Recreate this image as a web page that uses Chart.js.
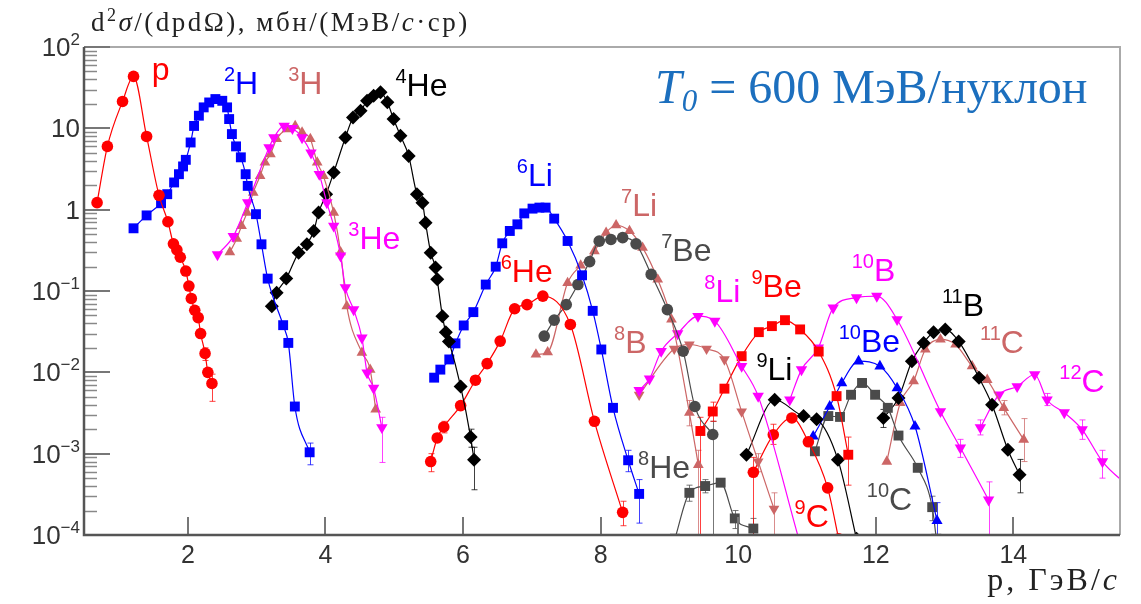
<!DOCTYPE html>
<html>
<head>
<meta charset="utf-8">
<script src="https://cdn.jsdelivr.net/npm/chart.js@4.4.0/dist/chart.umd.min.js"></script>
<style>
  html, body { margin: 0; padding: 0; background: #fff; }
  canvas { display: block; }
</style>
</head>
<body>
<canvas id="chart" width="1141" height="604"></canvas>
<script>
// Оси
const xMin = 0.49, xMax = 15.55;
const yMin = 1e-4, yMax = 100;
const xTicks = [2, 4, 6, 8, 10, 12, 14];
const yExponents = [-4, -3, -2, -1, 0, 1, 2];

// Данные: [p, d2sigma]
const pData = [[0.68,1.22],[0.83,6.0],[1.05,21.4],[1.21,43.5],[1.40,7.95],[1.58,1.5],[1.71,0.71],[1.79,0.38],[1.84,0.32],[1.89,0.26],[1.97,0.176],[2.015,0.115],[2.05,0.081],[2.10,0.058],[2.15,0.047],[2.185,0.030],[2.25,0.0171],[2.29,0.0100],[2.35,0.0073]];
const h2Data = [[1.21,0.59],[1.40,0.85],[1.61,1.20],[1.70,1.55],[1.80,2.16],[1.87,2.73],[1.93,3.4],[1.97,4.1],[2.04,6.7],[2.09,10.7],[2.16,14.3],[2.23,18.1],[2.31,20.8],[2.40,22.9],[2.50,21.8],[2.57,18.1],[2.60,13.0],[2.64,8.5],[2.70,6.0],[2.77,4.4],[2.84,2.73],[2.87,1.96],[2.99,0.88],[3.07,0.375],[3.16,0.142],[3.385,0.038],[3.46,0.023],[3.555,0.0038],[3.77,0.00104]];
const h3Data = [[2.61,0.30],[2.71,0.44],[2.78,0.63],[2.86,0.92],[2.95,1.62],[3.05,2.6],[3.12,3.8],[3.20,4.8],[3.29,7.4],[3.44,9.8],[3.56,10.7],[3.66,8.9],[3.78,7.4],[3.88,3.8],[3.97,2.6],[4.12,0.92],[4.22,0.30],[4.31,0.065],[4.53,0.0174],[4.65,0.0108],[4.73,0.0035]];
const he3Data = [[2.43,0.28],[2.66,0.47],[2.87,1.22],[3.18,5.8],[3.25,7.7],[3.40,10.7],[3.52,10.0],[3.66,7.7],[3.79,5.0],[3.91,2.73],[4.02,1.22],[4.12,0.63],[4.22,0.27],[4.29,0.11],[4.41,0.059],[4.53,0.0266],[4.605,0.0099],[4.70,0.0064],[4.82,0.0021]];
const he4Data = [[3.22,0.065],[3.29,0.095],[3.43,0.142],[3.61,0.296],[3.73,0.375],[3.83,0.547],[3.90,0.92],[4.01,1.55],[4.12,2.86],[4.29,7.7],[4.40,13.6],[4.51,16.4],[4.605,21.8],[4.70,25.1],[4.80,27.7],[4.90,20.9],[4.99,13.0],[5.09,8.1],[5.21,4.58],[5.33,1.55],[5.41,1.22],[5.455,0.69],[5.53,0.296],[5.60,0.194],[5.625,0.139],[5.70,0.049],[5.75,0.031],[5.795,0.024],[5.965,0.0067],[6.11,0.0016],[6.16,0.00084]];
const li6Data = [[5.58,0.0086],[5.67,0.0108],[5.80,0.0144],[5.89,0.0227],[6.01,0.0377],[6.15,0.055],[6.33,0.12],[6.475,0.199],[6.57,0.386],[6.68,0.547],[6.79,0.66],[6.89,0.90],[7.01,1.03],[7.11,1.06],[7.20,1.06],[7.325,0.776],[7.52,0.412],[7.73,0.156],[7.885,0.057],[8.01,0.0191],[8.18,0.00366],[8.40,0.00083],[8.56,0.00032]];
const he6Data = [[5.53,0.0008],[5.625,0.00156],[5.72,0.00213],[5.965,0.0039],[6.18,0.0080],[6.35,0.0128],[6.54,0.0242],[6.75,0.0605],[6.93,0.068],[7.16,0.0865],[7.56,0.0388],[7.91,0.0025],[8.32,0.00019]];
const li7Data = [[7.06,0.0166],[7.23,0.0177],[7.52,0.126],[7.71,0.206],[7.91,0.31],[8.08,0.522],[8.225,0.643],[8.42,0.547],[8.61,0.341],[8.83,0.139],[9.03,0.0447],[9.29,0.0032],[9.42,0.00073]];
const be7Data = [[7.18,0.0279],[7.325,0.0438],[7.50,0.068],[7.67,0.12],[7.84,0.23],[7.98,0.41],[8.15,0.43],[8.32,0.453],[8.515,0.38],[8.735,0.16],[8.97,0.059],[9.20,0.0182],[9.37,0.0038],[9.63,0.00172]];
const b8Data = [[8.56,0.0053],[9.07,0.0195],[9.29,0.022],[9.54,0.0195],[9.80,0.0144],[10.05,0.0033],[10.29,0.00080],[10.52,0.00021]];
const li8Data = [[8.56,0.006],[8.71,0.0083],[8.88,0.0182],[9.12,0.030],[9.415,0.049],[9.66,0.0426],[10.05,0.0119],[10.29,0.0051],[10.88,0.00009]];
const be9Data = [[9.45,0.0019],[9.63,0.0033],[9.80,0.0063],[10.05,0.0158],[10.30,0.0312],[10.49,0.037],[10.68,0.0438],[10.90,0.0337],[11.17,0.018],[11.43,0.0051],[11.60,0.00097]];
const he8Data = [[9.08,0.00009],[9.29,0.00033],[9.52,0.0004],[9.745,0.00044],[9.95,0.00016],[10.22,0.00012]];
const c9Data = [[10.22,0.00059],[10.51,0.00171],[10.78,0.00275],[11.02,0.0014],[11.30,0.00038],[11.46,0.00009]];
const li9Data = [[10.12,0.00097],[10.53,0.0046],[10.95,0.0029],[11.14,0.00265],[11.45,0.00084],[11.72,0.00009]];
const b10Data = [[10.75,0.0046],[10.92,0.0108],[11.165,0.020],[11.38,0.062],[11.72,0.083],[12.015,0.0866],[12.31,0.0447],[12.94,0.0033],[13.23,0.00118],[13.64,0.00027]];
const be10Data = [[11.09,0.00163],[11.33,0.0038],[11.505,0.0074],[11.75,0.0137],[12.06,0.0119],[12.31,0.0064],[12.57,0.00217],[12.89,0.00015]];
const c10Data = [[11.115,0.00107],[11.31,0.0029],[11.48,0.00283],[11.64,0.0053],[11.80,0.0074],[11.99,0.0053],[12.175,0.00366],[12.33,0.00167],[12.61,0.00067],[12.82,0.00022],[12.88,0.00009]];
const b11Data = [[12.11,0.00275],[12.33,0.00485],[12.525,0.0137],[12.695,0.023],[12.84,0.031],[13.01,0.0336],[13.205,0.024],[13.50,0.0086],[13.69,0.004],[13.92,0.00112],[14.09,0.00055]];
const c11Data = [[12.16,0.0008],[12.355,0.0042],[12.55,0.0078],[12.72,0.0191],[12.94,0.0254],[13.16,0.022],[13.40,0.0119],[13.62,0.0081],[13.86,0.00366],[14.15,0.00149]];
const c12Data = [[13.52,0.0021],[13.79,0.0053],[14.055,0.0067],[14.31,0.0094],[14.49,0.0046],[14.74,0.0032],[15.00,0.00198],[15.295,0.0008],[15.7,0.00038]];

// Погрешности: [p, низ, верх]
const pErr = [[2.25,0.014,0.020],[2.35,0.0044,0.0095]];
const h2Err = [[3.77,0.00073,0.00135]];
const he3Err = [[4.82,0.00078,0.0028]];
const he4Err = [[6.11,0.0012,0.002],[6.16,0.00036,0.0012]];
const he6Err = [[5.53,0.0006,0.001],[5.72,0.0018,0.0025],[8.32,0.00013,0.00026]];
const li6Err = [[8.40,0.0006,0.0011],[8.56,0.00014,0.00048]];
const li7Err = [[9.29,0.0022,0.0045],[9.42,1e-6,0.0011]];
const be7Err = [[9.63,1e-6,0.0025]];
const b8Err = [[10.29,0.0006,0.001],[10.52,1e-6,0.00033]];
const be9Err = [[9.45,1e-6,0.0028],[9.63,0.0025,0.0043],[11.60,0.00041,0.0016]];
const he8Err = [[9.29,0.00026,0.00041],[9.52,0.00033,0.00048],[9.95,0.00012,0.0002],[10.22,0.00009,0.00016]];
const c9Err = [[10.22,1e-6,0.0009],[10.51,0.0013,0.0023]];
const b10Err = [[13.23,0.0009,0.0015],[13.64,1e-6,0.00045]];
const be10Err = [[12.89,1e-6,0.00025]];
const c10Err = [[12.82,0.00015,0.0003]];
const b11Err = [[12.11,0.0021,0.0035],[14.09,0.00033,0.00085]];
const c11Err = [[13.86,0.003,0.0045],[14.15,0.0008,0.0027]];
const c12Err = [[13.52,0.0017,0.0026],[14.49,0.0039,0.0055],[15.00,0.0015,0.0026],[15.295,0.0005,0.0011]];

// Цвета
const RED = "#ff0000", BLUE = "#0000ff", MAG = "#ff00ff", BLACK = "#000000", ROSE = "#cc6666", GRAY = "#4a4a4a";

// Подписи изотопов: [верхний индекс, символ, p, d2sigma, цвет]
const isoLabels = [
  ["", "p", 1.475, 39, RED],
  ["2", "H", 2.525, 26.4, BLUE],
  ["3", "H", 3.458, 26.4, ROSE],
  ["4", "He", 5.017, 24.9, BLACK],
  ["3", "He", 4.332, 0.325, MAG],
  ["6", "Li", 6.781, 1.94, BLUE],
  ["7", "Li", 8.297, 0.83, ROSE],
  ["7", "Be", 8.88, 0.232, GRAY],
  ["6", "He", 6.548, 0.128, RED],
  ["8", "Li", 9.507, 0.0724, MAG],
  ["9", "Be", 10.192, 0.0834, RED],
  ["10", "B", 11.65, 0.131, MAG],
  ["11", "B", 12.962, 0.0486, BLACK],
  ["8", "B", 8.195, 0.0175, ROSE],
  ["10", "Be", 11.46, 0.018, BLUE],
  ["11", "C", 13.516, 0.0175, ROSE],
  ["9", "Li", 10.265, 0.00815, BLACK],
  ["12", "C", 14.668, 0.0058, MAG],
  ["8", "He", 8.545, 0.000506, GRAY],
  ["9", "C", 10.819, 0.000126, RED],
  ["10", "C", 11.869, 0.000204, GRAY]
];

function series(data, errors, color, style, r, rot) {
  return {
    data,
    errors,
    borderColor: color,
    backgroundColor: color,
    borderWidth: 1.2,
    pointStyle: style,
    rotation: rot || 0,
    pointRadius: r,
    pointBorderWidth: 0,
    cubicInterpolationMode: "monotone",
    fill: false
  };
}

const datasets = [
  series(pData, pErr, RED, "circle", 5.8),
  series(h2Data, h2Err, BLUE, "rect", 7),
  series(he3Data, he3Err, MAG, "triangle", 6.6, 180),
  series(h3Data, [], ROSE, "triangle", 6.2),
  series(he4Data, he4Err, BLACK, "rectRot", 7),
  series(li6Data, li6Err, BLUE, "rect", 7),
  series(he6Data, he6Err, RED, "circle", 5.8),
  series(be7Data, be7Err, GRAY, "circle", 5.8),
  series(li7Data, li7Err, ROSE, "triangle", 6.2),
  series(li8Data, [], MAG, "triangle", 6.6, 180),
  series(b8Data, b8Err, ROSE, "triangle", 6.2, 180),
  series(be9Data, be9Err, RED, "rect", 7),
  series(he8Data, he8Err, GRAY, "rect", 7),
  series(c9Data, c9Err, RED, "circle", 5.8),
  series(li9Data, [], BLACK, "rectRot", 7),
  series(b10Data, b10Err, MAG, "triangle", 6.6, 180),
  series(be10Data, be10Err, BLUE, "triangle", 6.4),
  series(c10Data, c10Err, GRAY, "rect", 7),
  series(b11Data, b11Err, BLACK, "rectRot", 7),
  series(c11Data, c11Err, ROSE, "triangle", 6.2),
  series(c12Data, c12Err, MAG, "triangle", 6.6, 180)
];

// Планки погрешностей
const errorBars = {
  id: "errorBars",
  beforeDatasetsDraw(chart) {
    const { ctx, chartArea: a } = chart;
    const xs = chart.scales.x, ys = chart.scales.y;
    ctx.save();
    ctx.beginPath();
    ctx.rect(a.left, a.top, a.right - a.left, a.bottom - a.top);
    ctx.clip();
    ctx.lineWidth = 1;
    chart.data.datasets.forEach(ds => {
      ctx.strokeStyle = ds.borderColor;
      ctx.globalAlpha = 0.75;
      (ds.errors || []).forEach(([xv, lo, hi]) => {
        const px = Math.round(xs.getPixelForValue(xv)) + 0.5;
        const y1 = ys.getPixelForValue(lo), y2 = ys.getPixelForValue(hi);
        ctx.beginPath();
        ctx.moveTo(px, y1); ctx.lineTo(px, y2);
        ctx.moveTo(px - 3, y1); ctx.lineTo(px + 3, y1);
        ctx.moveTo(px - 3, y2); ctx.lineTo(px + 3, y2);
        ctx.stroke();
      });
    });
    ctx.restore();
  }
};

function drawSegments(ctx, segs, x, y, align) {
  // segs: [текст, шрифт, сдвиг по вертикали]
  let total = 0;
  segs.forEach(s => { ctx.font = s[1]; total += ctx.measureText(s[0]).width; });
  let cx = align === "right" ? x - total : x;
  segs.forEach(s => {
    ctx.font = s[1];
    ctx.fillText(s[0], cx, y + (s[2] || 0));
    cx += ctx.measureText(s[0]).width;
  });
}

// Рамка, деления, подписи
const frame = {
  id: "frame",
  afterDraw(chart) {
    const { ctx, chartArea: a } = chart;
    const xs = chart.scales.x, ys = chart.scales.y;
    ctx.save();

    ctx.strokeStyle = "#aaaaaa";
    ctx.lineWidth = 2;
    ctx.beginPath();
    ctx.moveTo(a.left, a.top); ctx.lineTo(a.right, a.top); ctx.lineTo(a.right, a.bottom);
    ctx.stroke();

    ctx.strokeStyle = "#888888";
    ctx.lineWidth = 1.5;
    for (let e = -4; e < 2; e++) {
      for (let m = 2; m <= 9; m++) {
        const py = Math.round(ys.getPixelForValue(m * Math.pow(10, e))) + 0.5;
        ctx.beginPath(); ctx.moveTo(a.left, py); ctx.lineTo(a.left + 13, py); ctx.stroke();
      }
    }
    ctx.strokeStyle = "#777777";
    ctx.lineWidth = 2;
    yExponents.forEach(e => {
      const py = Math.round(ys.getPixelForValue(Math.pow(10, e)));
      ctx.beginPath(); ctx.moveTo(a.left, py); ctx.lineTo(a.left + 26, py); ctx.stroke();
    });
    xTicks.forEach(v => {
      const px = Math.round(xs.getPixelForValue(v));
      ctx.beginPath(); ctx.moveTo(px, a.bottom); ctx.lineTo(px, a.bottom - 18); ctx.stroke();
    });

    ctx.strokeStyle = "#555555";
    ctx.lineWidth = 2.5;
    ctx.beginPath();
    ctx.moveTo(a.left, a.top); ctx.lineTo(a.left, a.bottom); ctx.lineTo(a.right, a.bottom);
    ctx.stroke();

    // подписи делений
    ctx.fillStyle = "#333333";
    ctx.textBaseline = "alphabetic";
    const tickFont = "26px 'Liberation Sans', Arial, sans-serif";
    const supFont = "17px 'Liberation Sans', Arial, sans-serif";
    yExponents.forEach(e => {
      const py = ys.getPixelForValue(Math.pow(10, e));
      let segs;
      if (e === 0) segs = [["1", tickFont, 0]];
      else if (e === 1) segs = [["10", tickFont, 0]];
      else segs = [["10", tickFont, 0], [e < 0 ? "\u2212" + (-e) : String(e), supFont, -11]];
      drawSegments(ctx, segs, 80, py + 9, "right");
    });
    ctx.textAlign = "center";
    ctx.font = "25px 'Liberation Sans', Arial, sans-serif";
    xTicks.forEach(v => ctx.fillText(String(v), xs.getPixelForValue(v), 563));
    ctx.textAlign = "left";

    // подписи изотопов
    isoLabels.forEach(([sup, sym, xv, yv, color]) => {
      ctx.fillStyle = color;
      const px = xs.getPixelForValue(xv), py = ys.getPixelForValue(yv);
      const segs = [];
      if (sup) segs.push([sup, "20px 'Liberation Sans', Arial, sans-serif", -13]);
      segs.push([sym, "32px 'Liberation Sans', Arial, sans-serif", 0]);
      drawSegments(ctx, segs, px, py, "left");
    });

    // заголовки осей
    const serif = "'Liberation Serif', 'Times New Roman', serif";
    ctx.fillStyle = "#222222";
    ctx.letterSpacing = "2.5px";
    drawSegments(ctx, [
      ["d", "27px " + serif, 0],
      ["2", "18px " + serif, -10],
      ["\u03c3", "italic 27px " + serif, 0],
      ["/(dpd\u03a9), \u043c\u0431\u043d/(\u041c\u044d\u0412/", "27px " + serif, 0],
      ["c", "italic 27px " + serif, 0],
      ["\u00b7\u0441\u0440)", "27px " + serif, 0]
    ], 91, 31, "left");
    ctx.letterSpacing = "3px";
    drawSegments(ctx, [
      ["p, \u0413\u044d\u0412/", "32px " + serif, 0],
      ["c", "italic 32px " + serif, 0]
    ], 1120, 590, "right");
    ctx.letterSpacing = "0px";

    ctx.fillStyle = "#1c6fbe";
    drawSegments(ctx, [
      ["T", "italic 48px " + serif, 0],
      ["0", "italic 31px " + serif, 8],
      [" = 600 \u041c\u044d\u0412/\u043d\u0443\u043a\u043b\u043e\u043d", "48px " + serif, 0]
    ], 655, 103, "left");

    ctx.restore();
  }
};

new Chart(document.getElementById("chart"), {
  type: "line",
  data: { datasets },
  options: {
    responsive: false,
    animation: false,
    events: [],
    layout: { padding: { left: 84, top: 47, right: 21, bottom: 69 } },
    plugins: { legend: { display: false }, tooltip: { enabled: false } },
    scales: {
      x: { type: "linear", min: xMin, max: xMax, display: false },
      y: { type: "logarithmic", min: yMin, max: yMax, display: false }
    }
  },
  plugins: [errorBars, frame]
});
</script>
</body>
</html>
